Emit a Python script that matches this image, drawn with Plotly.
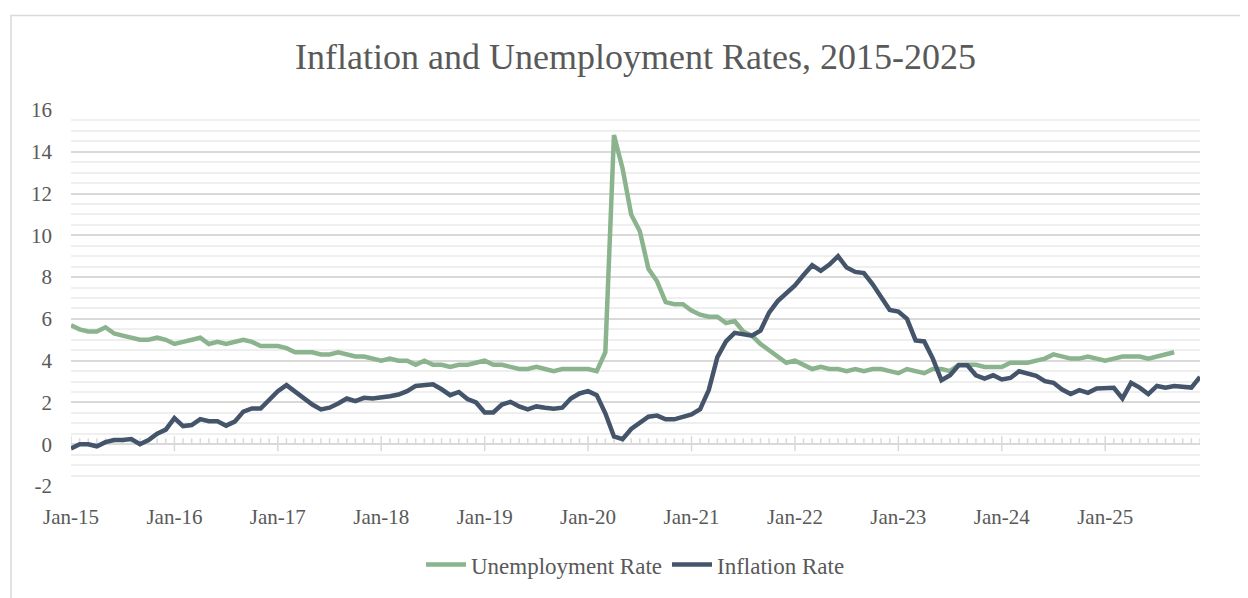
import plotly.graph_objects as go

# monthly categories Jan-15 .. Dec-25
month_names = ["Jan", "Feb", "Mar", "Apr", "May", "Jun",
               "Jul", "Aug", "Sep", "Oct", "Nov", "Dec"]
years = [15, 16, 17, 18, 19, 20, 21, 22, 23, 24, 25]
months = [f"{m}-{y}" for y in years for m in month_names]

unemployment = [
    5.7, 5.5, 5.4, 5.4, 5.6, 5.3, 5.2, 5.1, 5.0, 5.0, 5.1, 5.0,
    4.8, 4.9, 5.0, 5.1, 4.8, 4.9, 4.8, 4.9, 5.0, 4.9, 4.7, 4.7,
    4.7, 4.6, 4.4, 4.4, 4.4, 4.3, 4.3, 4.4, 4.3, 4.2, 4.2, 4.1,
    4.0, 4.1, 4.0, 4.0, 3.8, 4.0, 3.8, 3.8, 3.7, 3.8, 3.8, 3.9,
    4.0, 3.8, 3.8, 3.7, 3.6, 3.6, 3.7, 3.6, 3.5, 3.6, 3.6, 3.6,
    3.6, 3.5, 4.4, 14.8, 13.2, 11.0, 10.2, 8.4, 7.8, 6.8, 6.7, 6.7,
    6.4, 6.2, 6.1, 6.1, 5.8, 5.9, 5.4, 5.2, 4.8, 4.5, 4.2, 3.9,
    4.0, 3.8, 3.6, 3.7, 3.6, 3.6, 3.5, 3.6, 3.5, 3.6, 3.6, 3.5,
    3.4, 3.6, 3.5, 3.4, 3.6, 3.6, 3.5, 3.8, 3.8, 3.8, 3.7, 3.7,
    3.7, 3.9, 3.9, 3.9, 4.0, 4.1, 4.3, 4.2, 4.1, 4.1, 4.2, 4.1,
    4.0, 4.1, 4.2, 4.2, 4.2, 4.1, 4.2, 4.3, 4.4,
]

inflation = [
    -0.2, 0.0, 0.0, -0.1, 0.1, 0.2, 0.2, 0.25, 0.0, 0.2, 0.5, 0.7,
    1.25, 0.87, 0.92, 1.2, 1.1, 1.1, 0.89, 1.08, 1.56, 1.71, 1.71, 2.14,
    2.54, 2.83, 2.5, 2.22, 1.9, 1.67, 1.75, 1.95, 2.19, 2.06, 2.22, 2.19,
    2.22, 2.3, 2.38, 2.54, 2.79, 2.83, 2.87, 2.63, 2.35, 2.5, 2.16, 2.0,
    1.52, 1.52, 1.9, 2.03, 1.81, 1.67, 1.81, 1.75, 1.7, 1.75, 2.19, 2.43,
    2.54, 2.35, 1.48, 0.37, 0.24, 0.73, 1.03, 1.32, 1.37, 1.19, 1.19, 1.32,
    1.43, 1.68, 2.59, 4.17, 4.92, 5.33, 5.29, 5.2, 5.44, 6.3, 6.85, 7.2,
    7.6, 8.1, 8.57, 8.3, 8.6, 9.0, 8.46, 8.25, 8.19, 7.67, 7.08, 6.43,
    6.35, 6.0, 4.97, 4.92, 4.1, 3.06, 3.3, 3.78, 3.78, 3.3, 3.14, 3.3,
    3.1, 3.17, 3.49, 3.38, 3.27, 3.02, 2.94, 2.62, 2.4, 2.59, 2.46, 2.67,
    2.67, 2.7, 2.19, 2.94, 2.71, 2.4, 2.79, 2.7, 2.79, 2.75, 2.71, 3.22,
]

y_ticks = [-2, 0, 2, 4, 6, 8, 10, 12, 14, 16]
y_tick_text = ["-2", "0", "2", "4", "6", "8", "10", "12", "14", "16"]

GREEN = "#8AB38E"
SLATE = "#44546A"
TEXT = "#595959"
GRID = "#d9d9d9"
FONT = "Liberation Serif"

fig = go.Figure()
fig.add_trace(go.Scatter(
    x=months[:len(unemployment)], y=unemployment, mode="lines",
    name="Unemployment Rate", line=dict(color=GREEN, width=4.5),
))
fig.add_trace(go.Scatter(
    x=months[:len(inflation)], y=inflation, mode="lines",
    name="Inflation Rate", line=dict(color=SLATE, width=4.5),
))

# horizontal axis drawn through zero, with month / year tick marks
shapes = []
for i in range(len(months)):
    is_year = i % 12 == 0
    shapes.append(dict(
        type="line", xref="x", yref="y", x0=i, x1=i,
        ysizemode="pixel", yanchor=0,
        y0=-7 if is_year else 0, y1=8 if is_year else 6,
        line=dict(color=GRID, width=1.5), layer="below",
    ))
shapes.append(dict(
    type="line", xref="x", yref="y", x0=0, x1=len(months) - 1, y0=0, y1=0,
    line=dict(color=GRID, width=1.5), layer="below",
))
# chart frame
shapes.append(dict(
    type="rect", xref="paper", yref="paper",
    x0=-0.0531, x1=1.06, y0=-0.36, y1=1.2513,
    line=dict(color=GRID, width=1.5), layer="below",
))

# the page body adds an 8px margin, so the figure is 8px smaller on each axis
fig.update_layout(
    width=1240, height=590,
    paper_bgcolor="white", plot_bgcolor="white",
    margin=dict(l=63, r=48, t=102, b=110),
    font=dict(family=FONT, color=TEXT, size=21),
    title=dict(
        text="Inflation and Unemployment Rates, 2015-2025",
        x=0.5, xref="paper", y=1 - 48 / 590, yanchor="middle",
        font=dict(family=FONT, size=36, color=TEXT),
    ),
    xaxis=dict(
        type="category", range=[0, len(months) - 1],
        tickmode="array", tickvals=months[::12], ticktext=months[::12],
        showgrid=False, showline=False, zeroline=False, ticks="",
        ticklabelstandoff=16, tickfont=dict(size=21),
    ),
    yaxis=dict(
        range=[-2, 16], tickmode="array", tickvals=y_ticks, ticktext=y_tick_text,
        showgrid=True, gridcolor=GRID, gridwidth=1.5,
        minor=dict(dtick=0.5, tick0=0, showgrid=True, gridcolor="#efefef", gridwidth=1.5),
        zeroline=False, showline=False, ticks="",
        ticklabelstandoff=18, tickfont=dict(size=21),
    ),
    legend=dict(
        orientation="h", x=0.5, xanchor="center", y=-0.209, yanchor="middle",
        font=dict(family=FONT, size=23, color=TEXT), itemwidth=40,
    ),
    shapes=shapes,
    showlegend=True,
)

fig.write_html("out.html")
